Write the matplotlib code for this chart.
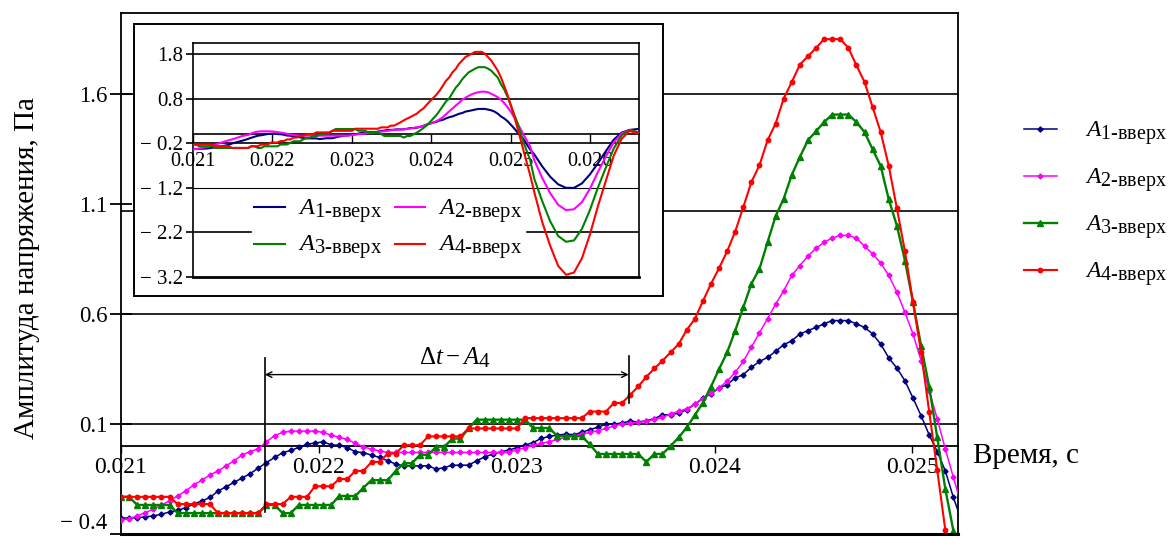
import numpy as np
import matplotlib.pyplot as plt
import matplotlib._mathtext as mathtext_internal
from matplotlib.patches import Rectangle
from matplotlib.ticker import FuncFormatter

plt.rcParams['font.family'] = ['Liberation Serif', 'DejaVu Serif']
plt.rcParams['mathtext.fontset'] = 'custom'
plt.rcParams['mathtext.rm'] = 'Liberation Serif'
plt.rcParams['mathtext.it'] = 'Liberation Serif:italic'
plt.rcParams['mathtext.bf'] = 'Liberation Serif:bold'
# индексы в оригинале почти того же размера, что и основная буква
mathtext_internal.SHRINK_FACTOR = 0.85

# отсчёты начинаются с 0.021 с, шаг дискретизации ~4.085e-5 с
t0 = 0.021
dt = 4.085e-5

a1 = [-0.328, -0.327, -0.326, -0.322, -0.318, -0.310, -0.300, -0.293, -0.280, -0.264,
      -0.250, -0.234, -0.205, -0.185, -0.165, -0.145, -0.125, -0.100, -0.075, -0.052,
      -0.030, -0.020, -0.006, 0.008, 0.014, 0.019, 0.006, 0.003, -0.007, -0.026,
      -0.030, -0.041, -0.052, -0.067, -0.082, -0.090, -0.090, -0.090, -0.090, -0.105,
      -0.098, -0.087, -0.087, -0.087, -0.067, -0.049, -0.037, -0.026, -0.018, -0.007,
      0.004, 0.016, 0.035, 0.044, 0.050, 0.054, 0.052, 0.062, 0.075, 0.085,
      0.100, 0.100, 0.105, 0.113, 0.110, 0.115, 0.125, 0.142, 0.142, 0.150,
      0.165, 0.190, 0.218, 0.237, 0.264, 0.279, 0.310, 0.325, 0.358, 0.385,
      0.403, 0.431, 0.461, 0.479, 0.510, 0.525, 0.540, 0.556, 0.571, 0.571,
      0.571, 0.556, 0.540, 0.510, 0.464, 0.401, 0.355, 0.297, 0.218, 0.138,
      0.051, -0.025, -0.113, -0.234, -0.340]

a2 = [-0.337, -0.330, -0.318, -0.303, -0.287, -0.268, -0.249, -0.227, -0.204, -0.177,
      -0.155, -0.132, -0.113, -0.090, -0.067, -0.040, -0.025, -0.012, 0.020, 0.047,
      0.062, 0.068, 0.068, 0.068, 0.068, 0.062, 0.050, 0.040, 0.030, 0.012,
      -0.004, -0.014, -0.022, -0.029, -0.029, -0.029, -0.029, -0.029, -0.029, -0.029,
      -0.029, -0.029, -0.029, -0.029, -0.029, -0.029, -0.029, -0.029, -0.029, -0.016,
      -0.008, 0.004, 0.012, 0.020, 0.030, 0.039, 0.046, 0.054, 0.062, 0.070,
      0.080, 0.092, 0.100, 0.104, 0.108, 0.112, 0.122, 0.130, 0.146, 0.158,
      0.170, 0.190, 0.215, 0.240, 0.265, 0.295, 0.335, 0.385, 0.450, 0.515,
      0.580, 0.645, 0.707, 0.776, 0.821, 0.864, 0.900, 0.927, 0.946, 0.958,
      0.958, 0.946, 0.909, 0.874, 0.833, 0.776, 0.700, 0.608, 0.510, 0.388,
      0.252, 0.123, -0.014, -0.143, -0.270]

a3 = [-0.231, -0.231, -0.268, -0.268, -0.268, -0.268, -0.268, -0.305, -0.305, -0.305,
      -0.305, -0.305, -0.305, -0.305, -0.305, -0.305, -0.305, -0.305, -0.268, -0.268,
      -0.305, -0.305, -0.268, -0.268, -0.268, -0.268, -0.268, -0.227, -0.227, -0.227,
      -0.189, -0.155, -0.155, -0.155, -0.113, -0.078, -0.078, -0.040, -0.040, -0.003,
      -0.003, 0.034, 0.034, 0.080, 0.120, 0.120, 0.120, 0.120, 0.120, 0.120,
      0.120, 0.082, 0.082, 0.082, 0.045, 0.045, 0.045, 0.045, 0.008, -0.036,
      -0.036, -0.036, -0.036, -0.036, -0.036, -0.072, -0.036, -0.036, 0.000, 0.039,
      0.085, 0.140, 0.198, 0.270, 0.350, 0.426, 0.525, 0.631, 0.738, 0.806,
      0.927, 1.046, 1.125, 1.234, 1.315, 1.391, 1.432, 1.474, 1.508, 1.508,
      1.508, 1.474, 1.428, 1.350, 1.274, 1.122, 1.003, 0.844, 0.654, 0.457,
      0.270, 0.039, -0.196, -0.386, -0.580]

a4 = [-0.231, -0.231, -0.231, -0.231, -0.231, -0.231, -0.231, -0.264, -0.264, -0.264,
      -0.264, -0.264, -0.305, -0.305, -0.305, -0.305, -0.305, -0.305, -0.264, -0.264,
      -0.264, -0.231, -0.231, -0.231, -0.183, -0.183, -0.183, -0.150, -0.150, -0.113,
      -0.113, -0.072, -0.072, -0.034, -0.034, 0.004, 0.004, 0.004, 0.044, 0.044,
      0.044, 0.044, 0.044, 0.080, 0.080, 0.080, 0.080, 0.080, 0.080, 0.080,
      0.127, 0.127, 0.127, 0.127, 0.127, 0.127, 0.127, 0.127, 0.157, 0.157,
      0.157, 0.196, 0.196, 0.233, 0.271, 0.315, 0.353, 0.388, 0.426, 0.464,
      0.528, 0.578, 0.659, 0.738, 0.809, 0.886, 0.976, 1.087, 1.201, 1.277,
      1.391, 1.467, 1.581, 1.656, 1.735, 1.773, 1.811, 1.851, 1.851, 1.851,
      1.811, 1.732, 1.656, 1.542, 1.428, 1.274, 1.082, 0.886, 0.654, 0.426,
      0.157, -0.110, -0.383, -0.650, -0.920]

# продолжение сигналов (только для врезки)
tail_t = [0.0253, 0.0254, 0.0255, 0.0256, 0.0257, 0.0258, 0.0259,
          0.0260, 0.0261, 0.0262, 0.0263, 0.0264, 0.0265, 0.0266]
a1_tail = [-0.45, -0.72, -0.95, -1.12, -1.20, -1.20, -1.10, -0.90, -0.65, -0.38, -0.12, 0.04, 0.10, 0.12]
a2_tail = [-0.58, -0.98, -1.32, -1.58, -1.70, -1.68, -1.52, -1.22, -0.85, -0.50, -0.18, 0.02, 0.10, 0.05]
a3_tail = [-1.00, -1.50, -1.95, -2.28, -2.41, -2.38, -2.12, -1.70, -1.20, -0.75, -0.32, -0.02, 0.10, 0.05]
a4_tail = [-1.30, -1.97, -2.50, -2.95, -3.15, -3.10, -2.78, -2.25, -1.62, -1.05, -0.48, -0.10, 0.08, 0.02]

labels = [r'$A_{\text{1-вверх}}$', r'$A_{\text{2-вверх}}$',
          r'$A_{\text{3-вверх}}$', r'$A_{\text{4-вверх}}$']
colors = ['#000080', '#ff00ff', '#008000', '#ff0000']
markers = ['D', 'P', '^', 'o']
msizes = [2.6, 3.2, 4.5, 3.2]
lws = [1.1, 1.1, 1.7, 1.5]

main_yticks = [-0.4, 0.1, 0.6, 1.1, 1.6]
main_grid = [1.6, 1.068, 0.6, 0.1]
main_xticks = [0.021, 0.022, 0.023, 0.024, 0.025]
in_yticks = [1.8, 0.8, -0.2, -1.2, -2.2, -3.2]
in_xticks = [0.021, 0.022, 0.023, 0.024, 0.025, 0.026]

t = t0 + dt * np.arange(len(a1))
series = [a1, a2, a3, a4]
tails = [a1_tail, a2_tail, a3_tail, a4_tail]


def minus_fmt(v, pos):
    return ('\u2212 ' if v < 0 else '') + f'{abs(v):.1f}'


fig = plt.figure(figsize=(11.75, 5.39), dpi=100)
ax = fig.add_axes([0.103, 0.0093, 0.7122, 0.9666])

for g in main_grid:
    ax.axhline(g, color='k', lw=1.2, zorder=1)

handles = []
for y, c, m, ms, lw, lab in zip(series, colors, markers, msizes, lws, labels):
    h, = ax.plot(t, y, color=c, marker=m, ms=ms, lw=lw, mec=c, mfc=c, label=lab, zorder=3)
    handles.append(h)

ax.set_xlim(0.021, 0.02523)
ax.set_ylim(-0.4, 1.97)
ax.spines['bottom'].set_position(('data', 0))
for s in ['left', 'top', 'right', 'bottom']:
    ax.spines[s].set_linewidth(1.3)
ax.axhline(-0.4, color='k', lw=2.2, clip_on=False, zorder=4)

ax.set_xticks(main_xticks)
ax.set_xticklabels([f'{v:.3f}' for v in main_xticks])
ax.set_yticks(main_yticks)
ax.yaxis.set_major_formatter(FuncFormatter(minus_fmt))
ax.tick_params(axis='x', direction='out', length=5, width=1, pad=3, labelsize=17)
ax.tick_params(axis='y', direction='inout', length=16, width=1.3, pad=2, labelsize=16.5)
# нижняя подпись не должна уходить за край рисунка
ax.yaxis.get_major_ticks()[0].label1.set_verticalalignment('bottom')

# разметка интервала Δt
x_start, x_end, y_arrow = 0.021727, 0.023566, 0.325
ax.plot([x_start, x_start], [-0.30, 0.40], color='k', lw=1.2, zorder=4)
ax.plot([x_end, x_end], [0.197, 0.41], color='k', lw=1.2, zorder=4)
ax.annotate('', xy=(x_start, y_arrow), xytext=(x_end, y_arrow),
            arrowprops=dict(arrowstyle='<->', color='k', lw=1.0, shrinkA=0, shrinkB=0))
ax.text(0.022688, 0.37, r'$\Delta t - A_4$', ha='center', va='baseline', fontsize=18)

ax.legend(handles=handles, loc='upper left', bbox_to_anchor=(1012 / 1175, 1 - 108 / 539),
          bbox_transform=fig.transFigure, frameon=False, fontsize=17, numpoints=1,
          handlelength=1.4, handletextpad=1.2, labelspacing=0.8, borderpad=0)

fig.text(27 / 1175, 1 - 268 / 539, 'Амплитуда напряжения, Па', rotation=90,
         ha='center', va='center', fontsize=21)
fig.text(973 / 1175, 1 - 456 / 539, 'Время, с', ha='left', va='center', fontsize=21)

# рамка врезки
ax.add_patch(Rectangle((0.114, 0.4508), 0.4503, 0.5047, transform=fig.transFigure,
                       fc='white', ec='k', lw=1.4, zorder=5, clip_on=False))

axin = fig.add_axes([0.1643, 0.4861, 0.3796, 0.4341])
axin.set_facecolor('white')
for g in in_yticks[:-1]:
    axin.axhline(g, color='k', lw=0.8 if g == -1.2 else 1.2, zorder=1)

t_full = np.concatenate([t, tail_t])
in_handles = []
for y, yt, c, lab in zip(series, tails, colors, labels):
    h, = axin.plot(t_full, np.concatenate([y, yt]), color=c, lw=1.5, label=lab, zorder=3)
    in_handles.append(h)

axin.set_xlim(0.021, 0.02662)
axin.set_ylim(-3.2, 2.05)
axin.spines['bottom'].set_position(('data', 0))
for s in ['left', 'top', 'right', 'bottom']:
    axin.spines[s].set_linewidth(1.2)
axin.axhline(-3.2, color='k', lw=2.0, clip_on=False, zorder=4)
axin.set_xticks(in_xticks)
axin.set_xticklabels([f'{v:.3f}' for v in in_xticks])
axin.set_yticks(in_yticks)
axin.yaxis.set_major_formatter(FuncFormatter(minus_fmt))
axin.tick_params(axis='x', direction='out', length=6.5, width=1, pad=6, labelsize=14.5)
axin.tick_params(axis='y', direction='out', length=5, width=1.2, pad=2, labelsize=15)

leg = axin.legend(handles=[in_handles[0], in_handles[2], in_handles[1], in_handles[3]],
                  ncol=2, loc='lower left', bbox_to_anchor=(0.105, 0.0), fontsize=17.5,
                  frameon=True, fancybox=False, facecolor='white', edgecolor='white',
                  framealpha=1, handlelength=1.25, handletextpad=0.55, columnspacing=0.5,
                  labelspacing=0.35, borderpad=0.1)
leg.set_zorder(5)

fig.savefig('out.png', dpi=100)
